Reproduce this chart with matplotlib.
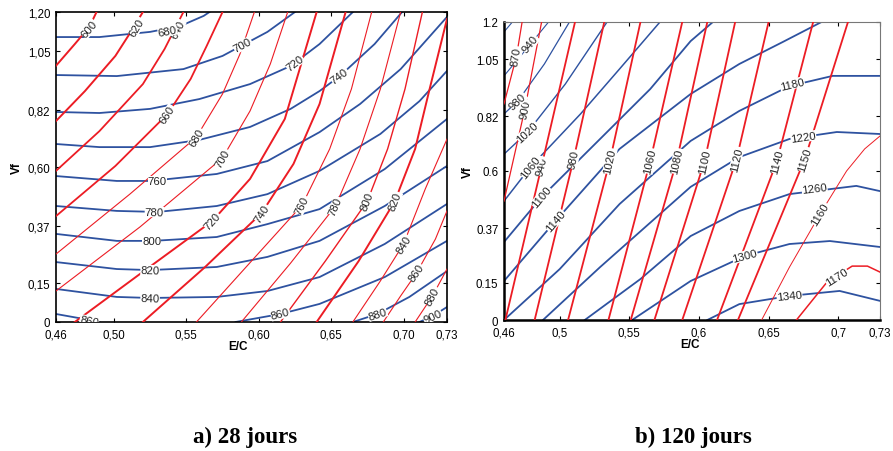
import numpy as np
import matplotlib.pyplot as plt

plt.rcParams["font.family"] = ["Liberation Sans", "DejaVu Sans"]

RED = "#ec1c24"
BLUE = "#2e52a0"

# ---------------- a) 28 jours ----------------
a_red_levels = [600, 620, 640, 660, 680, 700, 720, 740, 760, 780, 800, 820, 840, 860, 880]
a_red_ec = [
    [0.460, 0.473, 0.483, 0.488],
    [0.460, 0.480, 0.501, 0.512, 0.520],
    [0.460, 0.490, 0.520, 0.535, 0.548],
    [0.460, 0.501, 0.537, 0.553, 0.564, 0.575],
    [0.460, 0.511, 0.557, 0.575, 0.587, 0.597],
    [0.460, 0.518, 0.575, 0.594, 0.608, 0.620],
    [0.473, 0.518, 0.568, 0.594, 0.618, 0.640],
    [0.520, 0.563, 0.602, 0.624, 0.642, 0.660],
    [0.557, 0.595, 0.630, 0.649, 0.664, 0.678],
    [0.588, 0.622, 0.653, 0.670, 0.684, 0.698],
    [0.615, 0.646, 0.675, 0.689, 0.701, 0.713],
    [0.640, 0.669, 0.694, 0.708, 0.718, 0.730],
    [0.665, 0.684, 0.700, 0.715, 0.730],
    [0.686, 0.698, 0.709, 0.722, 0.730],
    [0.708, 0.720, 0.730],
]
a_red_vf = [
    [0.992, 1.076, 1.142, 1.200],
    [0.778, 0.894, 1.030, 1.126, 1.200],
    [0.585, 0.739, 0.921, 1.057, 1.200],
    [0.410, 0.604, 0.805, 0.941, 1.068, 1.200],
    [0.263, 0.495, 0.716, 0.883, 1.037, 1.200],
    [0.120, 0.368, 0.635, 0.817, 0.999, 1.200],
    [0.000, 0.186, 0.391, 0.554, 0.786, 1.200],
    [0.000, 0.213, 0.422, 0.612, 0.844, 1.200],
    [0.000, 0.236, 0.453, 0.670, 0.902, 1.200],
    [0.000, 0.228, 0.449, 0.670, 0.902, 1.200],
    [0.000, 0.236, 0.468, 0.670, 0.902, 1.200],
    [0.000, 0.236, 0.468, 0.670, 0.902, 1.173],
    [0.000, 0.159, 0.302, 0.515, 0.708],
    [0.000, 0.101, 0.190, 0.321, 0.430],
    [0.000, 0.101, 0.205],
]
a_red_lab_ec = [0.483, 0.516, 0.544, 0.537, 0.557, 0.575, 0.568, 0.602, 0.630, 0.653, 0.675, 0.694, 0.700, 0.709, 0.720]
a_red_lab_vf = [1.134, 1.142, 1.134, 0.805, 0.716, 0.635, 0.391, 0.422, 0.453, 0.449, 0.468, 0.468, 0.302, 0.190, 0.101]

a_blue_levels = [680, 700, 720, 740, 760, 780, 800, 820, 840, 860, 880, 900]
a_blue_ec = [
    [0.460, 0.490, 0.525, 0.546, 0.562, 0.566],
    [0.460, 0.502, 0.548, 0.575, 0.589, 0.606, 0.625],
    [0.460, 0.490, 0.525, 0.559, 0.594, 0.622, 0.642, 0.665],
    [0.460, 0.490, 0.525, 0.559, 0.594, 0.622, 0.642, 0.656, 0.680, 0.699],
    [0.460, 0.502, 0.525, 0.571, 0.606, 0.642, 0.670, 0.698, 0.730],
    [0.460, 0.502, 0.530, 0.571, 0.606, 0.642, 0.684, 0.711, 0.730],
    [0.460, 0.502, 0.527, 0.571, 0.606, 0.642, 0.687, 0.730],
    [0.460, 0.502, 0.525, 0.571, 0.606, 0.642, 0.687, 0.730],
    [0.460, 0.502, 0.525, 0.571, 0.606, 0.642, 0.687, 0.730],
    [0.460, 0.479, 0.490, np.nan, 0.584, 0.615, 0.642, 0.687, 0.730],
    [0.665, 0.682, 0.704, 0.730],
    [0.711, 0.720, 0.730],
]
a_blue_vf = [
    [1.103, 1.103, 1.123, 1.146, 1.185, 1.200],
    [0.956, 0.952, 0.979, 1.030, 1.072, 1.123, 1.200],
    [0.813, 0.809, 0.825, 0.863, 0.921, 0.991, 1.076, 1.200],
    [0.689, 0.677, 0.677, 0.705, 0.755, 0.825, 0.894, 0.952, 1.076, 1.200],
    [0.565, 0.546, 0.546, 0.573, 0.623, 0.735, 0.844, 0.979, 1.181],
    [0.449, 0.430, 0.426, 0.449, 0.495, 0.585, 0.728, 0.855, 0.972],
    [0.341, 0.314, 0.314, 0.329, 0.379, 0.437, 0.592, 0.786],
    [0.232, 0.205, 0.201, 0.213, 0.252, 0.314, 0.449, 0.604],
    [0.128, 0.097, 0.093, 0.097, 0.120, 0.174, 0.302, 0.457],
    [0.031, 0.012, 0.000, np.nan, 0.000, 0.031, 0.070, 0.174, 0.314],
    [0.000, 0.031, 0.097, 0.197],
    [0.000, 0.023, 0.058],
]
a_blue_lab_txt = [680, 700, 720, 740, 760, 780, 800, 820, 840, 860, 860, 880, 900]
a_blue_lab_line = [0, 1, 2, 3, 4, 5, 6, 7, 8, 9, 9, 10, 11]
a_blue_lab_ec = [0.537, 0.589, 0.625, 0.656, 0.530, 0.528, 0.526, 0.525, 0.525, 0.483, 0.615, 0.682, 0.720]
a_blue_lab_vf = [1.126, 1.072, 1.003, 0.952, 0.546, 0.426, 0.314, 0.201, 0.093, 0.004, 0.031, 0.031, 0.023]

# ---------------- b) 120 jours ----------------
b_red_levels = [870, 900, 940, 980, 1020, 1060, 1080, 1100, 1120, 1140, 1150, 1160, 1170]
b_red_ec = [
    [0.460, 0.469, 0.473],
    [0.460, 0.475, 0.487],
    [0.461, 0.487, 0.511],
    [0.482, 0.510, 0.532],
    [0.506, 0.536, 0.558],
    [0.535, 0.565, 0.588],
    [0.551, 0.584, 0.606],
    [0.568, 0.604, 0.626],
    [0.588, 0.627, 0.650],
    [0.613, 0.656, 0.682],
    [0.628, 0.676, 0.707],
    [0.645, 0.665, 0.687, 0.706, 0.719, 0.730],
    [0.670, 0.692, 0.710, 0.721, 0.730],
]
b_red_vf = [
    [0.870, 1.063, 1.200],
    [0.479, 0.850, 1.200],
    [0.000, 0.620, 1.200],
    [0.000, 0.648, 1.200],
    [0.000, 0.640, 1.200],
    [0.000, 0.640, 1.200],
    [0.000, 0.640, 1.200],
    [0.000, 0.640, 1.200],
    [0.000, 0.648, 1.200],
    [0.000, 0.640, 1.200],
    [0.000, 0.648, 1.200],
    [0.000, 0.213, 0.427, 0.600, 0.689, 0.741],
    [0.000, 0.153, 0.217, 0.217, 0.193],
]
b_red_lab_ec = [0.469, 0.475, 0.487, 0.510, 0.536, 0.565, 0.584, 0.604, 0.627, 0.656, 0.676, 0.687, 0.699]
b_red_lab_vf = [1.063, 0.850, 0.620, 0.648, 0.640, 0.640, 0.640, 0.640, 0.648, 0.640, 0.648, 0.427, 0.173]

b_blue_levels = [900, 940, 980, 1020, 1060, 1100, 1140, 1180, 1220, 1260, 1300, 1340]
b_blue_ec = [
    [0.460, 0.466],
    [0.460, 0.479, 0.492],
    [0.460, 0.470, 0.489, 0.507],
    [0.460, 0.477, 0.504, 0.534],
    [0.460, 0.479, 0.515, 0.543, 0.572],
    [0.460, 0.487, 0.529, 0.565, 0.594, 0.610],
    [0.460, 0.497, 0.543, 0.594, 0.629, 0.660, 0.688],
    [0.460, 0.500, 0.543, 0.594, 0.629, 0.665, 0.696, 0.730],
    [0.488, 0.529, 0.594, 0.629, 0.665, 0.699, 0.730],
    [0.518, 0.558, 0.594, 0.629, 0.665, 0.713, 0.730],
    [0.552, 0.594, 0.633, 0.665, 0.694, 0.730],
    [0.606, 0.629, 0.665, 0.701, 0.730],
]
b_blue_vf = [
    [1.160, 1.200],
    [0.983, 1.111, 1.200],
    [0.830, 0.882, 1.031, 1.200],
    [0.668, 0.757, 0.950, 1.200],
    [0.479, 0.616, 0.830, 1.011, 1.200],
    [0.314, 0.495, 0.729, 0.930, 1.123, 1.200],
    [0.157, 0.399, 0.689, 0.910, 1.031, 1.119, 1.200],
    [0.000, 0.205, 0.467, 0.721, 0.842, 0.942, 0.983, 0.983],
    [0.000, 0.213, 0.536, 0.656, 0.729, 0.757, 0.749],
    [0.000, 0.165, 0.338, 0.439, 0.507, 0.540, 0.519],
    [0.000, 0.157, 0.258, 0.306, 0.318, 0.294],
    [0.000, 0.064, 0.097, 0.117, 0.077],
]
b_blue_lab_txt = [940, 980, 1020, 1060, 1100, 1140, 1180, 1220, 1260, 1300, 1340]
b_blue_lab_line = [1, 2, 3, 4, 5, 6, 7, 8, 9, 10, 11]
b_blue_lab_ec = [0.479, 0.470, 0.477, 0.479, 0.487, 0.497, 0.667, 0.675, 0.683, 0.633, 0.665]
b_blue_lab_vf = [1.111, 0.882, 0.757, 0.616, 0.495, 0.399, 0.950, 0.737, 0.528, 0.258, 0.097]

ticks_ec = [0.46, 0.50, 0.55, 0.60, 0.65, 0.70, 0.73]
ticks_vf = [0, 0.15, 0.37, 0.60, 0.82, 1.05, 1.20]
a_xlabels = ["0,46", "0,50", "0,55", "0,60", "0,65", "0,70", "0,73"]
a_ylabels = ["0", "0,15", "0,37", "0,60", "0,82", "1,05", "1,20"]
b_xlabels = ["0,46", "0,5", "0,55", "0,6", "0,65", "0,7", "0,73"]
b_ylabels = ["0", "0.15", "0.37", "0.6", "0.82", "1.05", "1.2"]

# line widths (thick / thin contours)
a_red_lw = [1.4, 1.4, 1.3, 1.3, 0.8, 0.8, 1.4, 1.4, 0.8, 0.8, 1.0, 1.4, 0.8, 0.8, 0.8]
b_red_lw = [0.9, 0.9, 1.3, 1.3, 1.3, 1.3, 1.3, 1.3, 1.3, 1.3, 1.3, 0.7, 1.1]
b_blue_lw = [0.8, 0.8, 0.9, 1.0, 1.1, 1.3, 1.3, 1.3, 1.3, 1.3, 1.3, 1.3]


def label_on(ax, xs, ys, lx, ly, txt):
    pts = ax.transData.transform(np.column_stack([xs, ys]))
    p = ax.transData.transform((lx, ly))
    best, ang = None, 0.0
    for i in range(len(pts) - 1):
        a, b = pts[i], pts[i + 1]
        if np.any(np.isnan(a)) or np.any(np.isnan(b)):
            continue
        mid = (a + b) / 2
        d = np.hypot(*(mid - p))
        if best is None or d < best:
            best = d
            ang = np.degrees(np.arctan2(b[1] - a[1], b[0] - a[0]))
    if ang > 90:
        ang -= 180
    if ang < -90:
        ang += 180
    ax.text(lx, ly, str(txt), rotation=ang, rotation_mode="anchor",
            ha="center", va="center", fontsize=8.2, color="#222222", zorder=5,
            bbox=dict(fc="white", ec="none", pad=0.15), clip_on=True)


fig = plt.figure(figsize=(8.93, 4.52), dpi=100)
axa = fig.add_axes([56 / 893, 1 - 323 / 452, 391 / 893, 310 / 452])
axb = fig.add_axes([504 / 893, 1 - 321 / 452, 376 / 893, 298 / 452])

for ax in (axa, axb):
    ax.set_xlim(0.46, 0.73)
    ax.set_ylim(0, 1.2)
    ax.set_xticks(ticks_ec)
    ax.set_yticks(ticks_vf)
    ax.tick_params(direction="in", length=3, top=True, right=True, labelsize=8.3, pad=4)
    ax.tick_params(axis="x", pad=5)

# panel a
for ec, vf in zip(a_blue_ec, a_blue_vf):
    axa.plot(ec, vf, color=BLUE, lw=1.3, zorder=2)
for ec, vf, w in zip(a_red_ec, a_red_vf, a_red_lw):
    axa.plot(ec, vf, color=RED, lw=w, zorder=3)
for i, lev in enumerate(a_red_levels):
    label_on(axa, a_red_ec[i], a_red_vf[i], a_red_lab_ec[i], a_red_lab_vf[i], lev)
for k, lev in enumerate(a_blue_lab_txt):
    j = a_blue_lab_line[k]
    label_on(axa, a_blue_ec[j], a_blue_vf[j], a_blue_lab_ec[k], a_blue_lab_vf[k], lev)
axa.set_xticklabels(a_xlabels)
axa.set_yticklabels(a_ylabels)
for s in axa.spines.values():
    s.set_linewidth(1.2)

# panel b
for ec, vf, w in zip(b_blue_ec, b_blue_vf, b_blue_lw):
    axb.plot(ec, vf, color=BLUE, lw=w, zorder=2)
for ec, vf, w in zip(b_red_ec, b_red_vf, b_red_lw):
    axb.plot(ec, vf, color=RED, lw=w, zorder=3)
for i, lev in enumerate(b_red_levels):
    label_on(axb, b_red_ec[i], b_red_vf[i], b_red_lab_ec[i], b_red_lab_vf[i], lev)
for k, lev in enumerate(b_blue_lab_txt):
    j = b_blue_lab_line[k]
    label_on(axb, b_blue_ec[j], b_blue_vf[j], b_blue_lab_ec[k], b_blue_lab_vf[k], lev)
axb.set_xticklabels(b_xlabels)
axb.set_yticklabels(b_ylabels)
axb.spines["left"].set_linewidth(1.8)
axb.spines["bottom"].set_linewidth(1.8)
for side in ("top", "right"):
    axb.spines[side].set_linewidth(0.8)
    axb.spines[side].set_color("#777777")

for ax in (axa, axb):
    ax.set_xlabel("E/C", fontsize=8.5, fontweight="bold")
    ax.set_ylabel("Vf", fontsize=8.5, fontweight="bold")
axa.xaxis.set_label_coords((238 - 56) / 391, -18 / 310)
axa.yaxis.set_label_coords(-33 / 391, 155 / 310)
axb.xaxis.set_label_coords((690 - 504) / 376, -18 / 298)
axb.yaxis.set_label_coords(-30 / 376, 149 / 298)

fig.text(245 / 893, 1 - 437 / 452, "a) 28 jours", ha="center", va="center",
         fontsize=16.5, fontweight="bold", family="Liberation Serif")
fig.text(693 / 893, 1 - 437 / 452, "b) 120 jours", ha="center", va="center",
         fontsize=16.5, fontweight="bold", family="Liberation Serif")

fig.savefig("out.png", dpi=100)
